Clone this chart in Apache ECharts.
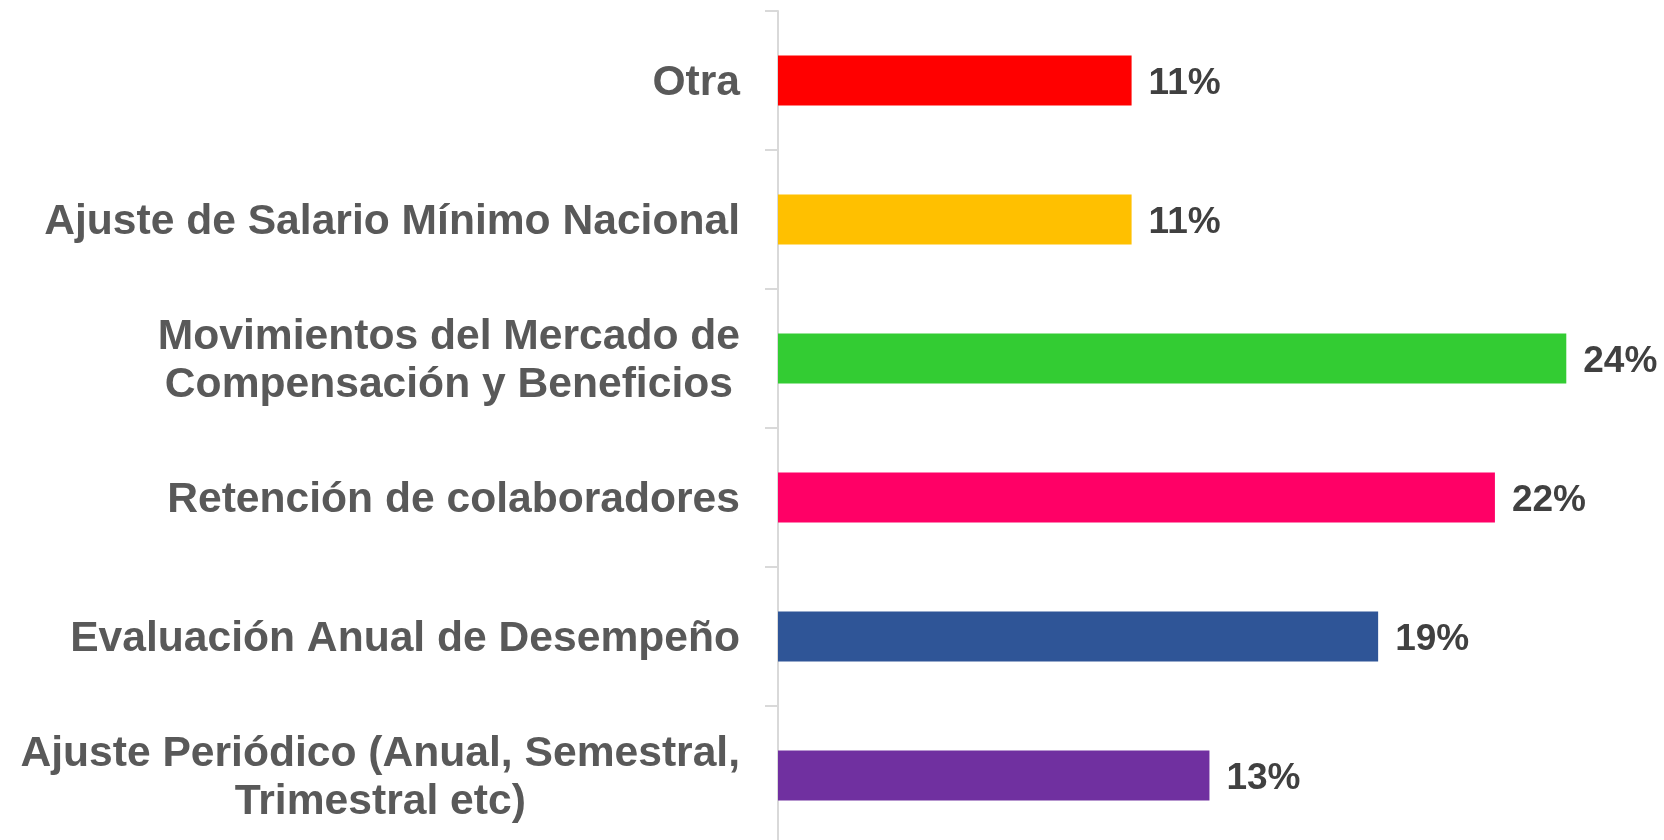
<!DOCTYPE html>
<html>
<head>
<meta charset="utf-8">
<script src="https://cdn.jsdelivr.net/npm/echarts@6/dist/echarts.min.js"></script>
<style>
html,body{margin:0;padding:0;background:#fff;}
#chart{width:1664px;height:840px;}
</style>
</head>
<body>
<div id="chart"></div>
<script>
const categories = [
  "Otra",
  "Ajuste de Salario Mínimo Nacional",
  "Movimientos del Mercado de\nCompensación y Beneficios",
  "Retención de colaboradores",
  "Evaluación Anual de Desempeño",
  "Ajuste Periódico (Anual, Semestral,\nTrimestral etc)"
];
const values = [10.9, 10.9, 24.3, 22.1, 18.5, 13.3];
const colors = ["#FF0000", "#FFC000", "#33CC33", "#FF0066", "#2F5597", "#7030A0"];

const FONT = "Arial, 'Liberation Sans', sans-serif";
const chart = echarts.init(document.getElementById('chart'), null, {renderer: 'canvas'});
chart.setOption({
  backgroundColor: '#ffffff',
  animation: false,
  grid: {left: 778, width: 811, top: 11, height: 834, containLabel: false, outerBoundsMode: 'none'},
  xAxis: {
    type: 'value', min: 0, max: 25,
    show: false
  },
  yAxis: {
    type: 'category',
    data: categories,
    inverse: true,
    axisLine: {show: true, lineStyle: {color: '#D9D9D9', width: 2}},
    axisTick: {show: true, length: 13, lineStyle: {color: '#D9D9D9', width: 2}},
    splitLine: {show: false},
    axisLabel: {
      margin: 38,
      align: 'right',
      padding: [6, 0, 0, 0],
      formatter: function (v) {
        return v.split('\n').map(function (l) { return '{c|' + l + '}'; }).join('\n');
      },
      rich: {
        c: {
          align: 'center',
          fontFamily: FONT,
          fontWeight: 'bold',
          fontSize: 42.6,
          lineHeight: 48,
          color: '#595959'
        }
      }
    }
  },
  series: [{
    type: 'bar',
    barWidth: 50,
    data: values.map(function (v, i) {
      return {value: v, itemStyle: {color: colors[i]}};
    }),
    label: {
      show: true,
      position: 'right',
      distance: 17,
      offset: [0, 3],
      formatter: function (p) { return Math.round(p.value) + '%'; },
      fontFamily: FONT,
      fontWeight: 'bold',
      fontSize: 37,
      color: '#404040'
    }
  }]
});
</script>
</body>
</html>
